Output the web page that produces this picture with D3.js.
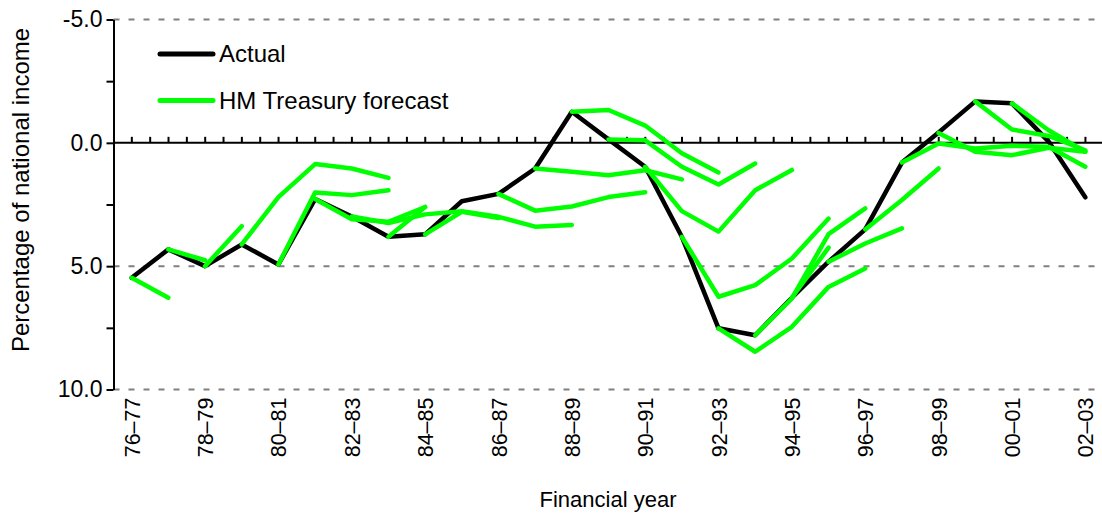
<!DOCTYPE html>
<html>
<head>
<meta charset="utf-8">
<script src="https://cdn.jsdelivr.net/npm/d3@7"></script>
<style>
  body { margin: 0; background: #fff; }
  text { font-family: "Liberation Sans", Arial, sans-serif; fill: #000; }
</style>
</head>
<body>
<svg id="chart" width="1102" height="515"></svg>
<script>
// financial years on the category axis
const years = ["76–77", "77–78", "78–79", "79–80", "80–81", "81–82", "82–83", "83–84", "84–85",
  "85–86", "86–87", "87–88", "88–89", "89–90", "90–91", "91–92", "92–93", "93–94", "94–95",
  "95–96", "96–97", "97–98", "98–99", "99–00", "00–01", "01–02", "02–03"];

// outturn, % of national income (positive = borrowing)
const actual = [5.47, 4.32, 5.0, 4.12, 4.93, 2.28, 2.99, 3.81, 3.71, 2.37, 2.07, 1.04, -1.26,
  -0.14, 0.97, 3.81, 7.52, 7.8, 6.28, 4.82, 3.51, 0.8, -0.42, -1.68, -1.6, -0.05, 2.21];

// each Budget forecast: index of its first year, then the values
const forecastStart = [0, 1, 2, 3, 4, 5, 6, 7, 8, 10, 11, 12, 13, 14, 15, 16, 17, 18, 19, 20, 21, 22, 23, 24];
const forecastValues = [
  [5.47, 6.28],
  [4.32, 4.76],
  [5.0, 3.38],
  [4.12, 2.2, 0.86, 1.04, 1.42],
  [4.93, 2.01, 2.12, 1.92],
  [2.28, 3.1, 3.2, 2.6],
  [2.99, 3.25, 2.9, 2.77, 3.0, 3.4, 3.33],
  [3.81, 2.6],
  [3.71, 2.8, 3.05],
  [2.07, 2.75, 2.58, 2.2, 2.0],
  [1.04, 1.17, 1.31, 1.11, 1.48],
  [-1.26, -1.33, -0.7, 0.42, 1.2],
  [-0.14, -0.1, 0.97, 1.69, 0.84],
  [0.97, 2.77, 3.6, 1.92, 1.1],
  [3.81, 6.24, 5.77, 4.69, 3.07],
  [7.52, 8.47, 7.46, 5.84, 5.09],
  [7.8, 6.31, 3.7, 2.66],
  [6.28, 4.25],
  [4.82, 4.08, 3.47],
  [3.51, 2.32, 1.04],
  [0.8, 0.03, 0.23, 0.12, 0.16, 0.97],
  [-0.4, 0.36, 0.5, 0.2, 0.36],
  [-1.68, -0.54, -0.28, 0.3],
  [-1.6, -0.51, 0.36]
];

const yTicks = [-5, -2.5, 0, 2.5, 5, 7.5, 10];
const yLabels = [-5, 0, 5, 10];
const gridValues = [-5, 5, 10];
const legendItems = [
  { name: "Actual", color: "#000000" },
  { name: "HM Treasury forecast", color: "#00ff00" }
];

const svg = d3.select("#chart");
const axisX = 113.5, plotRight = 1102;

const x = d3.scalePoint().domain(years).range([131.7, 1085.3]);
const y = d3.scaleLinear().domain([-5, 10]).range([19.5, 389.5]);
const step = x.step();

// dashed gridlines
svg.append("g")
  .selectAll("line")
  .data(gridValues)
  .enter().append("line")
  .attr("x1", axisX).attr("x2", plotRight)
  .attr("y1", d => y(d)).attr("y2", d => y(d))
  .attr("stroke", "#808080")
  .attr("stroke-width", 2)
  .attr("stroke-dasharray", "6,9");

// zero line with half-category ticks pointing up
svg.append("line")
  .attr("x1", axisX).attr("x2", plotRight)
  .attr("y1", y(0)).attr("y2", y(0))
  .attr("stroke", "#000").attr("stroke-width", 2);

const halfTicks = d3.range(1, Math.floor((plotRight - axisX) / (step / 2)) + 1).map(k => axisX + k * step / 2);
svg.append("g")
  .selectAll("line")
  .data(halfTicks)
  .enter().append("line")
  .attr("x1", d => d).attr("x2", d => d)
  .attr("y1", y(0)).attr("y2", y(0) - 6)
  .attr("stroke", "#000").attr("stroke-width", 2);

// y axis
const yAxis = svg.append("g")
  .attr("transform", `translate(${axisX},0)`)
  .call(d3.axisLeft(y)
    .tickValues(yTicks)
    .tickSize(7)
    .tickSizeOuter(0)
    .tickPadding(4)
    .tickFormat(d => yLabels.includes(d) ? d.toFixed(1) : ""));
yAxis.select(".domain").attr("stroke", "#000").attr("stroke-width", 2);
yAxis.selectAll(".tick line").attr("stroke", "#000").attr("stroke-width", 2);
yAxis.selectAll(".tick text").attr("font-size", 23).attr("fill", "#000");

// x axis labels (every other year), rotated
const xAxis = svg.append("g")
  .attr("transform", `translate(0,${y(10)})`)
  .call(d3.axisBottom(x)
    .tickValues(years.filter((d, i) => i % 2 === 0))
    .tickSize(0));
xAxis.select(".domain").remove();
xAxis.selectAll(".tick text")
  .attr("transform", "rotate(-90)")
  .attr("text-anchor", "end")
  .attr("x", -8)
  .attr("y", 0)
  .attr("dy", "0.35em")
  .attr("font-size", 21.5)
  .attr("fill", "#000");

// axis titles
svg.append("text")
  .attr("transform", "translate(29,190) rotate(-90)")
  .attr("text-anchor", "middle")
  .attr("font-size", 24)
  .text("Percentage of national income");

svg.append("text")
  .attr("x", 608).attr("y", 507)
  .attr("text-anchor", "middle")
  .attr("font-size", 22)
  .text("Financial year");

const line = d3.line()
  .x(d => x(d.year))
  .y(d => y(d.value));

// actual outturn
svg.append("path")
  .datum(actual.map((v, i) => ({ year: years[i], value: v })))
  .attr("d", line)
  .attr("fill", "none")
  .attr("stroke", "#000")
  .attr("stroke-width", 4.5)
  .attr("stroke-linejoin", "round")
  .attr("stroke-linecap", "round");

// forecasts
svg.append("g")
  .selectAll("path")
  .data(forecastValues.map((vals, k) => vals.map((v, j) => ({ year: years[forecastStart[k] + j], value: v }))))
  .enter().append("path")
  .attr("d", line)
  .attr("fill", "none")
  .attr("stroke", "#00ff00")
  .attr("stroke-width", 4.5)
  .attr("stroke-linejoin", "round")
  .attr("stroke-linecap", "round");

// legend
const legend = svg.append("g")
  .selectAll("g")
  .data(legendItems)
  .enter().append("g")
  .attr("transform", (d, i) => `translate(160,${54 + i * 46.5})`);
legend.append("line")
  .attr("x1", 0).attr("x2", 53)
  .attr("stroke", d => d.color)
  .attr("stroke-width", 5)
  .attr("stroke-linecap", "round");
legend.append("text")
  .attr("x", 59).attr("dy", "0.35em")
  .attr("font-size", 24)
  .text(d => d.name);
</script>
</body>
</html>
